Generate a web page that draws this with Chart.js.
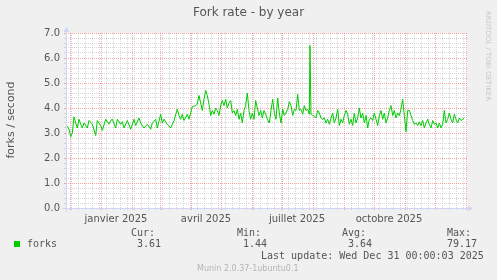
<!DOCTYPE html>
<html>
<head>
<meta charset="utf-8">
<script src="https://cdn.jsdelivr.net/npm/chart.js@4.4.1/dist/chart.umd.min.js"></script>
<style>
html, body { margin: 0; padding: 0; background: #f0f0f0; }
canvas { display: block; }
</style>
</head>
<body>
<canvas id="chart" width="497" height="280"></canvas>
<script>
// day = days since 26 Nov 2024 00:00 (start of the 400 day window)
var day = [
    2, 4, 5.7, 7.3, 9, 10.7, 12.3, 14, 15.7, 17.3,
    19, 22.3, 24, 27.3, 30.7, 32.3, 35.7, 37.3, 40.7, 44,
    45.7, 47.3, 50.7, 52.3, 55.7, 57.3, 59, 62.3, 65.7, 69,
    70.7, 74, 75.7, 79, 82.3, 85.7, 87.3, 90.7, 92.3, 95.7,
    97.3, 99, 102.3, 105.7, 109, 112.3, 114, 115.7, 117.3, 119,
    122.3, 124, 127.3, 130.7, 132.3, 134, 135.7, 137.3, 139, 140.7,
    142.3, 144, 145.7, 147.3, 149, 150.7, 152.3, 154, 155.7, 157.3,
    159, 160.7, 162.3, 164, 165.7, 167.3, 169, 170.7, 172.3, 174,
    175.7, 177.3, 179, 180.7, 182.3, 184, 185.7, 187.3, 189, 190.7,
    192.3, 194, 195.7, 197.3, 199, 200.7, 202.3, 204.3, 206, 207.7,
    209.3, 211, 212.7, 214.3, 216, 217.7, 219.3, 221, 222.7, 224.3,
    226, 227.7, 229.3, 231, 232.7, 234.3, 236, 237.7, 239.3, 241,
    242.7, 244.3, 245, 246, 247.7, 249.3, 251, 252.7, 254.3, 256,
    257.7, 259.3, 261, 262.7, 264.3, 266, 267.7, 269.3, 271, 272.7,
    274.3, 276, 277.7, 279.3, 281, 282.7, 284.3, 286, 287.7, 289.3,
    291, 292.7, 294.3, 296, 297.7, 299.3, 301, 302.7, 304.3, 306,
    307.7, 309.3, 311, 312.7, 314.3, 316, 317.7, 319.3, 321, 322.7,
    324.3, 326, 327.7, 329.3, 331, 332.7, 334.3, 336, 337.7, 339.3,
    341, 342.7, 344.3, 346, 347.7, 349.3, 351, 352.7, 354.3, 356,
    357.7, 359.3, 361, 362.7, 364.3, 366, 367.7, 369.3, 371, 372.7,
    374.3, 376, 377.7, 379.3, 381, 382.7, 384.3, 386, 387.7, 389.3,
    391, 392.7, 394.3, 396, 397.7, 399.3
];
var forks = [
    3.28, 3.15, 2.85, 3.0, 3.65, 3.4, 3.2, 3.55, 3.35, 3.2,
    3.4, 3.2, 3.5, 3.35, 2.9, 3.5, 3.3, 3.1, 3.55, 3.35,
    3.5, 3.55, 3.2, 3.55, 3.35, 3.45, 3.2, 3.5, 3.15, 3.55,
    3.3, 3.6, 3.4, 3.2, 3.35, 3.15, 3.4, 3.55, 3.2, 3.75,
    3.4, 3.55, 3.35, 3.2, 3.5, 3.95, 3.7, 3.55, 3.75, 3.5,
    3.75, 3.55, 4.05, 4.1, 4.15, 4.5, 4.2, 3.9, 4.35, 4.7,
    4.5, 4.15, 3.7, 3.9, 3.75, 4.0, 3.9, 3.7, 4.1, 4.3,
    4.1, 4.35, 4.0, 4.2, 4.3, 3.8, 3.9, 3.7, 3.95, 3.55,
    3.8, 3.4, 3.9, 4.1, 4.6, 3.9, 3.55, 3.8, 3.55, 4.3,
    4.0, 3.7, 3.9, 3.6, 3.9, 3.75, 3.55, 3.4, 3.9, 4.35,
    3.8, 3.55, 4.4, 3.8, 3.4, 3.95, 3.7, 3.8, 3.95, 4.25,
    4.1, 3.7, 3.95, 3.9, 4.55, 3.9, 3.95, 3.75, 4.1, 3.9,
    3.95, 3.75, 6.5, 3.75, 3.7, 3.68, 3.6, 3.9, 3.8, 3.6,
    3.55, 3.6, 3.4, 3.55, 3.35, 3.6, 3.8, 3.4, 3.6, 3.95,
    3.3, 3.55, 3.4, 3.7, 3.9, 3.75, 3.35, 3.55, 3.3, 3.8,
    3.4, 3.6, 4.0, 3.6, 3.8, 3.4, 3.7, 3.2, 3.55, 3.6,
    3.5, 3.8, 3.55, 3.3, 3.7, 3.9, 3.55, 3.8, 3.4, 3.6,
    3.9, 4.1, 3.7, 3.9, 3.6, 3.8, 3.7, 3.95, 4.35, 3.7,
    3.05, 3.9, 3.9, 3.7, 3.5, 3.35, 3.4, 3.3, 3.45, 3.3,
    3.5, 3.2, 3.4, 3.55, 3.35, 3.2, 3.5, 3.35, 3.4, 3.2,
    3.4, 3.2, 3.35, 3.9, 3.4, 3.55, 3.8, 3.55, 3.4, 3.75,
    3.55, 3.4, 3.6, 3.5, 3.55, 3.6
];
var monthLabels = ['janvier 2025', 'avril 2025', 'juillet 2025', 'octobre 2025'];
var labelMonths = [0, 3, 6, 9];
var statNames = ['Cur:', 'Min:', 'Avg:', 'Max:'];
var statValues = ['3.61', '1.44', '3.64', '79.17'];
var title = 'Fork rate - by year';
var yTitle = 'forks / second';
var seriesName = 'forks';
var lastUpdate = 'Last update: Wed Dec 31 00:00:03 2025';
var version = 'Munin 2.0.37-1ubuntu0.1';

var start = Date.UTC(2024, 10, 26);
function dayOf(y, m, d) { return (Date.UTC(y, m, d) - start) / 86400000; }

var monthDays = [];
for (var m = 11; m <= 24; m++) monthDays.push(dayOf(2024, m, 1));
var labelDays = labelMonths.map(function (mo) { return dayOf(2025, mo, 16); });
var weekDays = [];
for (var w = dayOf(2024, 11, 2); w <= 402; w += 7) {
    if (monthDays.indexOf(w) < 0) weekDays.push(w);
}

var majorGrid = 'rgba(240,110,110,0.6)';
var minorGrid = 'rgba(200,200,200,0.75)';
var fontColor = '#555';

function xGridColor(c) {
    var v = c.tick ? c.tick.value : null;
    if (monthDays.indexOf(v) >= 0) return majorGrid;
    if (labelDays.indexOf(v) >= 0) return 'rgba(0,0,0,0)';
    return minorGrid;
}
function isWhole(v) { return Math.abs(v - Math.round(v)) < 1e-6; }

var munin = {
    id: 'munin',
    beforeDraw: function (chart) {
        var ctx = chart.ctx, a = chart.chartArea;
        ctx.save();
        ctx.fillStyle = '#f0f0f0';
        ctx.fillRect(0, 0, chart.width, chart.height);
        ctx.fillStyle = '#ffffff';
        ctx.fillRect(a.left, a.top, a.right - a.left, a.bottom - a.top);
        ctx.restore();
    },
    afterDraw: function (chart) {
        var ctx = chart.ctx, a = chart.chartArea;
        ctx.save();
        // axes with arrows
        ctx.strokeStyle = '#cfd6f8';
        ctx.fillStyle = '#cfd6f8';
        ctx.lineWidth = 1;
        ctx.beginPath();
        ctx.moveTo(a.left - 4, a.bottom + 0.5);
        ctx.lineTo(a.right + 1, a.bottom + 0.5);
        ctx.moveTo(a.left + 0.5, a.bottom + 4);
        ctx.lineTo(a.left + 0.5, a.top - 1);
        ctx.stroke();
        ctx.beginPath();
        ctx.moveTo(a.right + 1, a.bottom - 2.5);
        ctx.lineTo(a.right + 6, a.bottom + 0.5);
        ctx.lineTo(a.right + 1, a.bottom + 3.5);
        ctx.fill();
        ctx.beginPath();
        ctx.moveTo(a.left - 2.5, a.top - 1);
        ctx.lineTo(a.left + 0.5, a.top - 6);
        ctx.lineTo(a.left + 3.5, a.top - 1);
        ctx.fill();

        ctx.fillStyle = fontColor;
        ctx.textBaseline = 'middle';
        ctx.textAlign = 'center';
        ctx.font = '12px "DejaVu Sans"';
        ctx.fillText(title, 248.5, 13);

        ctx.save();
        ctx.translate(11, 120);
        ctx.rotate(-Math.PI / 2);
        ctx.font = '11px "DejaVu Sans"';
        ctx.fillText(yTitle, 0, 0);
        ctx.restore();

        ctx.save();
        ctx.translate(488, 56);
        ctx.rotate(Math.PI / 2);
        ctx.fillStyle = '#c8c8c8';
        ctx.font = '7px "DejaVu Sans"';
        ctx.fillText('RRDTOOL / TOBI OETIKER', 0, 0);
        ctx.restore();

        // legend
        ctx.textAlign = 'left';
        ctx.fillStyle = '#00cc00';
        ctx.fillRect(14, 241, 6, 6);
        ctx.fillStyle = fontColor;
        ctx.font = '10px "DejaVu Sans Mono"';
        ctx.fillText(seriesName, 27, 244);
        var hx = [131, 237, 342, 447];
        var vx = [137, 243, 348, 447];
        for (var i = 0; i < statNames.length; i++) {
            ctx.fillText(statNames[i], hx[i], 233);
            ctx.fillText(statValues[i], vx[i], 244);
        }
        ctx.fillText(lastUpdate, 261, 256);
        ctx.fillStyle = '#b4b4b4';
        ctx.font = '8px "DejaVu Sans"';
        ctx.fillText(version, 197, 269);
        ctx.restore();
    }
};

var ctx = document.getElementById('chart').getContext('2d');
var chart = new Chart(ctx, {
    type: 'line',
    data: {
        datasets: [{
            label: seriesName,
            data: day.map(function (d, i) { return { x: d, y: forks[i] }; }),
            borderColor: '#00cc00',
            borderWidth: 1,
            pointRadius: 0,
            tension: 0,
            fill: false
        }]
    },
    options: {
        responsive: false,
        devicePixelRatio: 1,
        animation: false,
        layout: { padding: { left: 0, right: 30, top: 33, bottom: 0 } },
        plugins: { legend: { display: false }, tooltip: { enabled: false } },
        scales: {
            x: {
                type: 'linear',
                min: 1,
                max: 402,
                afterFit: function (s) { s.height = 72; },
                afterBuildTicks: function (s) {
                    var vals = monthDays.concat(weekDays, labelDays).filter(function (v) { return v >= 1 && v <= 402; });
                    vals.sort(function (p, q) { return p - q; });
                    s.ticks = vals.map(function (v) { return { value: v }; });
                },
                grid: {
                    color: xGridColor,
                    tickColor: xGridColor,
                    tickLength: 2,
                    lineWidth: 1
                },
                border: { display: false, dash: [1, 1] },
                ticks: {
                    autoSkip: false,
                    maxRotation: 0,
                    minRotation: 0,
                    padding: 3,
                    color: fontColor,
                    font: { family: 'DejaVu Sans', size: 10 },
                    callback: function (v) {
                        var i = labelDays.indexOf(v);
                        return i >= 0 ? monthLabels[i] : '';
                    }
                }
            },
            y: {
                type: 'linear',
                min: 0,
                max: 7,
                afterFit: function (s) { s.width = 66; },
                afterBuildTicks: function (s) {
                    var t = [];
                    for (var i = 0; i <= 35; i++) t.push({ value: i / 5 });
                    s.ticks = t;
                },
                grid: {
                    color: function (c) { return c.tick && isWhole(c.tick.value) ? majorGrid : minorGrid; },
                    tickColor: function (c) { return c.tick && isWhole(c.tick.value) ? majorGrid : minorGrid; },
                    tickLength: 2,
                    lineWidth: 1
                },
                border: { display: false, dash: [1, 1] },
                ticks: {
                    autoSkip: false,
                    padding: 4,
                    color: fontColor,
                    font: { family: 'DejaVu Sans', size: 10 },
                    callback: function (v) { return isWhole(v) ? v.toFixed(1) : ''; }
                }
            }
        }
    },
    plugins: [munin]
});
</script>
</body>
</html>
